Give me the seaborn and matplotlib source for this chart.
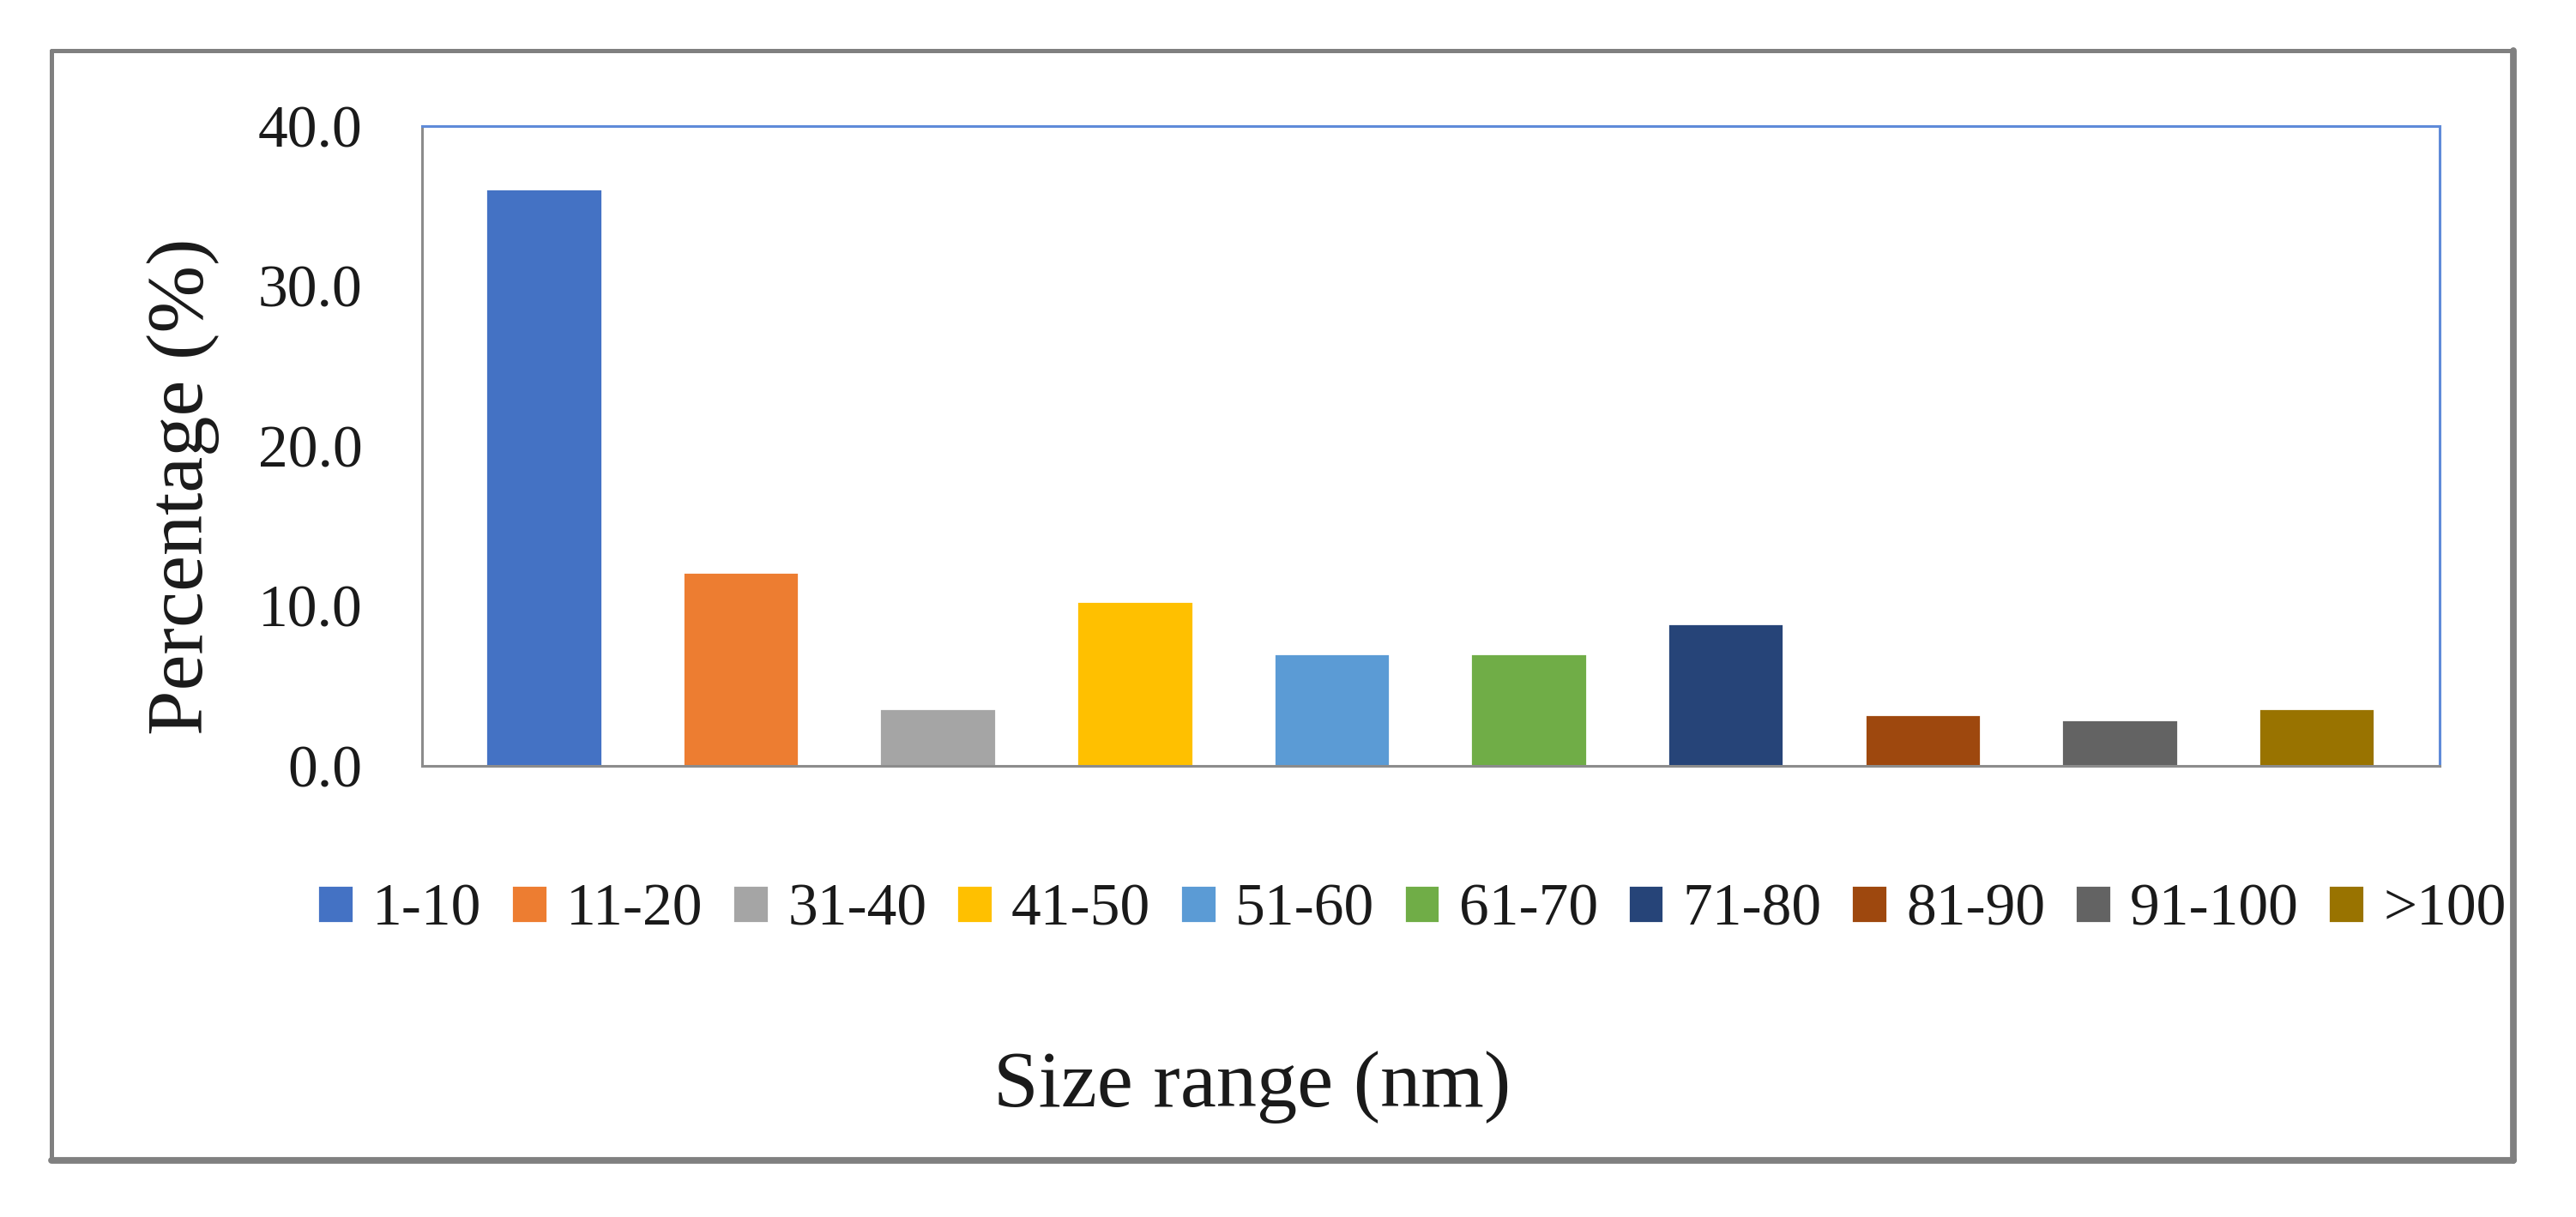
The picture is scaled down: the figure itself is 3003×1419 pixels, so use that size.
import matplotlib
matplotlib.use("Agg")
import matplotlib.pyplot as plt
from matplotlib.lines import Line2D
import seaborn as sns
import pandas as pd

# ---- data ----
size_ranges = ["1-10", "11-20", "31-40", "41-50", "51-60", "61-70",
               "71-80", "81-90", "91-100", ">100"]
percentages = [36.1, 12.1, 3.6, 10.3, 7.0, 7.0, 8.9, 3.2, 2.9, 3.6]
bar_colors = ["#4472C4", "#ED7D31", "#A5A5A5", "#FFC000", "#5B9BD5",
              "#70AD47", "#264478", "#9E480E", "#636363", "#997300"]
y_ticks = [0, 10, 20, 30, 40]
y_tick_labels = ["0.0", "10.0", "20.0", "30.0", "40.0"]
x_label = "Size range (nm)"
y_label = "Percentage (%)"

sns.set_style("white")
plt.rcParams["font.family"] = ["Liberation Serif", "DejaVu Serif"]

W, H = 3003, 1419
DPI = 200
fig = plt.figure(figsize=(W / DPI, H / DPI), dpi=DPI)
fig.patch.set_facecolor("white")

def fx(px):
    return px / W

def fy(py):
    return 1 - py / H

ax = fig.add_axes([fx(492), fy(893), fx(2844) - fx(492), fy(147) - fy(893)])

df = pd.DataFrame({"size": size_ranges, "pct": percentages})
sns.barplot(data=df, x="size", y="pct", hue="size", order=size_ranges,
            hue_order=size_ranges, palette=bar_colors, width=0.59,
            dodge=False, saturation=1, legend=True, ax=ax)

handles, labels = ax.get_legend_handles_labels()
if ax.get_legend() is not None:
    ax.get_legend().remove()

ax.set_xlim(-0.618, 9.625)
ax.set_ylim(0, 40)
ax.set_yticks(y_ticks)
ax.set_yticklabels(y_tick_labels)
ax.set_xticks([])
ax.set_xlabel("")
ax.set_ylabel("")
ax.tick_params(axis="y", length=0, pad=25, labelsize=25, labelcolor="#1a1a1a")

for side in ["left", "bottom"]:
    ax.spines[side].set_color("#8c8c8c")
    ax.spines[side].set_linewidth(1.1)
for side in ["top", "right"]:
    ax.spines[side].set_color("#5f8bd9")
    ax.spines[side].set_linewidth(1.1)
    ax.spines[side].set_visible(True)

# axis labels as figure text
fig.text(fx(213), fy(567), y_label, rotation=90, ha="center", va="center",
         fontsize=34, color="#1a1a1a")
fig.text(fx(1460), fy(1268), x_label, ha="center", va="center",
         fontsize=34, color="#1a1a1a")

# legend
fig.legend(handles, labels, loc="center", bbox_to_anchor=(fx(1646), fy(1062)),
           ncol=10, frameon=False, fontsize=25, handlelength=0.6,
           handleheight=0.6, handletextpad=0.32, columnspacing=0.5,
           borderpad=0, labelcolor="#1a1a1a")

# outer frame
frame_col = "#808080"
x0, x1, y0, y1 = fx(60), fx(2930), fy(59), fy(1353)
fig.add_artist(Line2D([x0, x1], [y0, y0], color=frame_col, lw=1.8, transform=fig.transFigure))
fig.add_artist(Line2D([x0, x0], [y0, y1], color=frame_col, lw=1.8, transform=fig.transFigure))
fig.add_artist(Line2D([x0, x1], [y1, y1], color=frame_col, lw=2.8, transform=fig.transFigure))
fig.add_artist(Line2D([x1, x1], [y0, y1], color=frame_col, lw=2.8, transform=fig.transFigure))

fig.savefig("out.png", dpi=DPI, facecolor="white")
